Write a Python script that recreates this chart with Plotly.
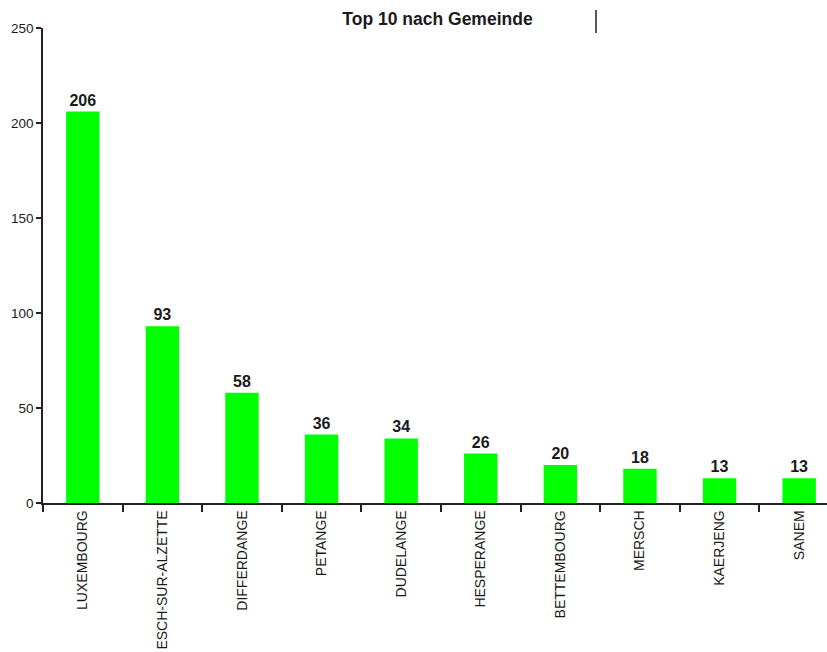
import plotly.graph_objects as go

categories = ["LUXEMBOURG", "ESCH-SUR-ALZETTE", "DIFFERDANGE", "PETANGE", "DUDELANGE",
              "HESPERANGE", "BETTEMBOURG", "MERSCH", "KAERJENG", "SANEM"]
values = [206, 93, 58, 36, 34, 26, 20, 18, 13, 13]
y_ticks = [0, 50, 100, 150, 200, 250]
title_text = "Top 10 nach Gemeinde"

W, H = 827, 652
ml, mr, mt, mb = 43, 0, 28, 149

fig = go.Figure()
fig.add_trace(go.Bar(
    x=categories, y=values,
    marker=dict(color="#00ff00", line=dict(width=0)),
    width=0.42,
    text=["<b>" + str(v) + "</b>" for v in values],
    textposition="outside",
    textfont=dict(family="Liberation Sans, Arial", size=16, color="#1a1a1a"),
    cliponaxis=False,
))

fig.update_layout(
    width=W, height=H,
    margin=dict(l=ml, r=mr, t=mt, b=mb),
    paper_bgcolor="white", plot_bgcolor="white",
    showlegend=False,
    font=dict(family="Liberation Sans, Arial", color="#1a1a1a"),
    title=dict(text="<b>" + title_text + "</b>", x=437.5 / W, xanchor="center",
               xref="container", y=1 - 19 / H, yanchor="middle", yref="container",
               font=dict(size=17.5, family="Liberation Sans, Arial", color="#1a1a1a")),
)

fig.update_xaxes(
    range=[-0.5, 9.35],
    showgrid=False, showline=True, linecolor="#222", linewidth=1.5,
    ticks="outside", tickson="boundaries", ticklen=7, tickcolor="#222", tickwidth=1.5,
    tickangle=-90, tickfont=dict(size=14, family="Liberation Sans, Arial", color="#1a1a1a"),
    fixedrange=True,
)
fig.update_yaxes(
    range=[0, 250], tickvals=y_ticks,
    showgrid=False, zeroline=False, showline=True, linecolor="#222", linewidth=1.5,
    ticks="outside", ticklen=5, tickcolor="#222", tickwidth=1.5,
    tickfont=dict(size=13.5, family="Liberation Sans, Arial", color="#1a1a1a"),
)

# small vertical mark next to the title
fig.add_shape(type="line", xref="paper", yref="paper",
              x0=(596 - ml) / (W - ml - mr), x1=(596 - ml) / (W - ml - mr),
              y0=(H - mb - 10) / (H - mt - mb), y1=(H - mb - 33) / (H - mt - mb),
              line=dict(color="#222", width=1.5))

fig.write_html("out.html")
